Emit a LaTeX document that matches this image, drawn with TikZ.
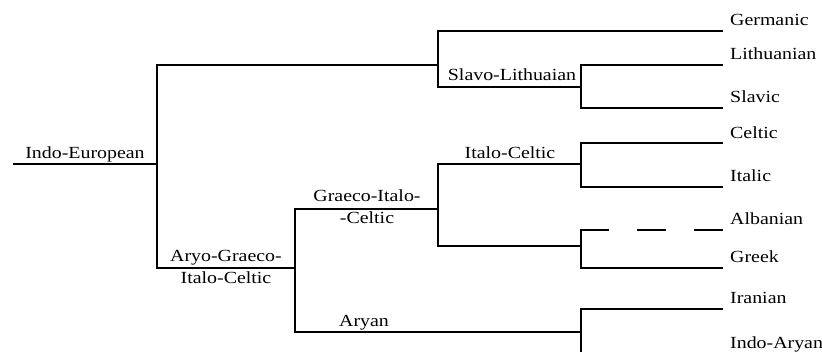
\documentclass[tikz,border=0pt]{standalone}
\usepackage{fontspec}
\setmainfont[FakeStretch=1.17]{Liberation Serif}
\begin{document}
\begin{tikzpicture}[x=1pt,y=-1pt,
  edge/.style={line width=2pt,line join=miter,line cap=butt},
  gapline/.style={edge,dash pattern=on 28.6pt off 28.6pt},
  lbl/.style={inner sep=0pt,anchor=base,font=\fontsize{17}{21.5}\selectfont,align=center},
  leaf/.style={lbl,anchor=base west}]
\useasboundingbox (0,0) rectangle (822,352);

% branch points of the tree
\coordinate (root)  at (13,164);
\coordinate (ie)    at (157,164);
\coordinate (top)   at (438,65);
\coordinate (sl)    at (581,87);
\coordinate (agic)  at (295,268);
\coordinate (gic)   at (438,209);
\coordinate (ic)    at (581,164);
\coordinate (ga)    at (581,246);
\coordinate (ary)   at (581,332);

% ends of the leaf lines
\coordinate (germ)  at (723,31);
\coordinate (lith)  at (723,65);
\coordinate (slav)  at (723,108);
\coordinate (celt)  at (723,143);
\coordinate (ital)  at (723,187);
\coordinate (alb)   at (723,230);
\coordinate (greek) at (723,268);
\coordinate (iran)  at (723,309);
\coordinate (indar) at (723,354);

% connectors
\draw[edge] (root) -- (ie);
\draw[edge] (ie) |- (top);
\draw[edge] (ie) |- (agic);
\draw[edge] (top) |- (germ);
\draw[edge] (top) |- (sl);
\draw[edge] (sl) |- (lith);
\draw[edge] (sl) |- (slav);
\draw[edge] (agic) |- (gic);
\draw[edge] (agic) |- (ary);
\draw[edge] (gic) |- (ic);
\draw[edge] (gic) |- (ga);
\draw[edge] (ic) |- (celt);
\draw[edge] (ic) |- (ital);
\draw[edge] (ga) |- (greek);
\draw[edge] (ga) -- (ga |- alb) coordinate (albc);
\draw[gapline] ([xshift=-1pt]albc) -- (alb);
\draw[edge] (ary) |- (iran);
\draw[edge] (ary) |- (indar);

% labels of the inner branches (base = baseline of the last line)
\node[lbl] (tIE)   at (85,159)    {Indo-European};
\node[lbl] (tSL)   at (512,81)    {Slavo-Lithuaian};
\node[lbl] (tAGIC) at (226,283.5) {Aryo-Graeco-\\Italo-Celtic};
\node[lbl] (tGIC)  at (367,223.5) {Graeco-Italo-\\-Celtic};
\node[lbl] (tIC)   at (510,159)   {Italo-Celtic};
\node[lbl] (tAry)  at (364,327)   {Aryan};

% labels of the leaves
\node[leaf] (tGerm)  at (730,26)  {Germanic};
\node[leaf] (tLith)  at (730,60)  {Lithuanian};
\node[leaf] (tSlav)  at (730,103) {Slavic};
\node[leaf] (tCelt)  at (730,139) {Celtic};
\node[leaf] (tItal)  at (730,182) {Italic};
\node[leaf] (tAlb)   at (730,225) {Albanian};
\node[leaf] (tGreek) at (730,263) {Greek};
\node[leaf] (tIran)  at (730,304) {Iranian};
\node[leaf] (tIndar) at (730,349) {Indo-Aryan};
\end{tikzpicture}
\end{document}
